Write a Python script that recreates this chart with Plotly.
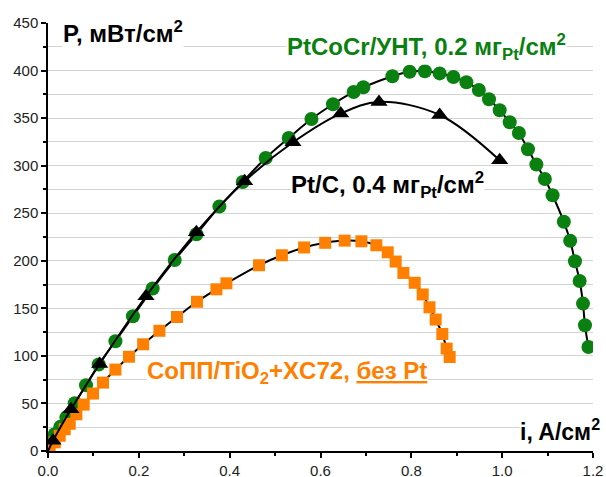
import plotly.graph_objects as go

# PtCoCr/УНТ, 0.2 мг_Pt/см2 (green circles)
i_green = [0.0075, 0.0148, 0.027, 0.0405, 0.0588, 0.0837, 0.1116, 0.1484, 0.187, 0.2305,
           0.279, 0.3267, 0.3774, 0.4287, 0.4793, 0.530, 0.580, 0.6275, 0.673, 0.6944,
           0.7583, 0.7963, 0.8298, 0.8624, 0.8926, 0.9212, 0.9487, 0.971, 0.9945, 1.0166,
           1.0368, 1.0568, 1.0753, 1.094, 1.111, 1.1358, 1.1497, 1.1603, 1.1706, 1.178,
           1.1823, 1.19]
p_green = [11.3, 17.6, 25.4, 35.4, 50.2, 69.1, 90.9, 115.4, 141.6, 170.8,
           200.8, 227.9, 257.0, 282.9, 308.1, 329.1, 349.1, 364.6, 377.5, 382.4,
           394.0, 398.7, 399.3, 397.0, 393.3, 387.7, 379.6, 369.8, 358.3, 345.6,
           334.4, 317.2, 301.3, 286.0, 268.9, 241.0, 221.0, 199.5, 178.8, 155.0,
           132.2, 109.4]

# Pt/C, 0.4 мг_Pt/см2 (black triangles)
i_ptc = [0.011, 0.0506, 0.1138, 0.2158, 0.3267, 0.433, 0.5394, 0.6444, 0.7288, 0.8624, 0.9945]
p_ptc = [10.7, 43.8, 91.5, 162.7, 230.0, 283.6, 324.6, 354.8, 367.0, 353.3, 305.7]

# CoПП/TiO2+XC72, без Pt (orange squares)
i_orange = [0.0037, 0.0148, 0.0258, 0.0368, 0.0478, 0.0625, 0.0786, 0.0991, 0.1211, 0.1484,
            0.1783, 0.2096, 0.2453, 0.284, 0.328, 0.3708, 0.3928, 0.4646, 0.515, 0.564,
            0.6103, 0.6532, 0.690, 0.723, 0.748, 0.7655, 0.7825, 0.8074, 0.825, 0.840,
            0.8536, 0.8683, 0.8778, 0.8844]
p_orange = [2.8, 9.1, 16.0, 22.8, 28.6, 38.6, 48.8, 60.4, 71.9, 85.6,
            99.1, 112.2, 126.4, 140.9, 156.9, 170.0, 176.3, 195.3, 205.8, 214.0,
            218.9, 221.2, 220.5, 216.3, 208.9, 199.2, 187.2, 176.9, 164.6, 151.1,
            138.2, 123.0, 107.7, 98.8]

x_ticks = [0.0, 0.2, 0.4, 0.6, 0.8, 1.0, 1.2]
y_ticks = [0, 50, 100, 150, 200, 250, 300, 350, 400, 450]
y_grid = [25, 50, 75, 100, 125, 150, 175, 200, 225, 250, 275, 300, 325, 350, 375, 400, 425]

FONT = "Liberation Sans"
GREEN = "#0a8010"
ORANGE = "#ff8000"

fig = go.Figure()

fig.add_trace(go.Scatter(
    x=i_green, y=p_green, mode="lines+markers",
    line=dict(color="black", width=2, shape="spline", smoothing=1),
    marker=dict(symbol="circle", size=14, color=GREEN, line=dict(width=0)),
    showlegend=False))

fig.add_trace(go.Scatter(
    x=i_orange, y=p_orange, mode="lines+markers",
    line=dict(color="black", width=2, shape="spline", smoothing=1),
    marker=dict(symbol="square", size=12, color=ORANGE, line=dict(width=0)),
    showlegend=False))

fig.add_trace(go.Scatter(
    x=[0.0] + i_ptc, y=[0.0] + p_ptc, mode="lines",
    line=dict(color="black", width=2, shape="spline", smoothing=1),
    showlegend=False))
fig.add_trace(go.Scatter(
    x=i_ptc, y=p_ptc, mode="markers",
    marker=dict(symbol="triangle-up", size=15, color="black", line=dict(width=0)),
    showlegend=False))

ann = [
    dict(text="<b>P, мВт/см<sup>2</sup></b>", x=0.030, y=441, font=dict(size=24, color="black")),
    dict(text="<b>PtCoCr/УНТ, 0.2 мг<sub>Pt</sub>/см<sup>2</sup></b>", x=0.524, y=425, font=dict(size=24, color=GREEN)),
    dict(text="<b>Pt/C, 0.4 мг<sub>Pt</sub>/см<sup>2</sup></b>", x=0.533, y=280, font=dict(size=24, color="black")),
    dict(text="<b>CoПП/TiO<sub>2</sub>+XC72, <u>без Pt</u></b>", x=0.215, y=83, font=dict(size=24, color=ORANGE)),
]
for a in ann:
    fig.add_annotation(xref="x", yref="y", xanchor="left", yanchor="middle",
                       showarrow=False, bgcolor="white", borderpad=0,
                       font_family=FONT, **{k: v for k, v in a.items()})
fig.add_annotation(text="<b>i, A/см<sup>2</sup></b>", xref="paper", yref="y",
                   x=1.015, y=22, xanchor="right", yanchor="middle", showarrow=False,
                   bgcolor="white", borderpad=0, font=dict(family=FONT, size=23, color="black"))

fig.update_layout(
    width=606, height=477,
    margin=dict(l=48, r=13, t=23, b=26),
    paper_bgcolor="white", plot_bgcolor="white",
    font=dict(family=FONT, size=15, color="#222"),
    showlegend=False,
)
fig.update_xaxes(
    range=[0, 1.2], tickvals=x_ticks, tickformat=".1f", automargin=False,
    showline=True, linecolor="black", linewidth=1.5,
    ticks="outside", ticklen=5, tickwidth=1.5, tickcolor="black",
    showgrid=False, zeroline=False,
    minor=dict(dtick=0.1, ticks="outside", ticklen=3, tickwidth=1.5, tickcolor="black", showgrid=False),
    tickfont=dict(size=15, color="#222"),
)
fig.update_yaxes(
    range=[0, 450], tickvals=y_ticks, automargin=False,
    showline=True, linecolor="black", linewidth=1.5,
    ticks="outside", ticklen=5, tickwidth=1.5, tickcolor="black",
    showgrid=False, zeroline=False,
    minor=dict(tickvals=y_grid, ticks="outside", ticklen=3, tickwidth=1.5, tickcolor="black",
               showgrid=True, gridcolor="#d4d4d4", gridwidth=1),
    tickfont=dict(size=15, color="#222"),
)

fig.write_html("out.html")
